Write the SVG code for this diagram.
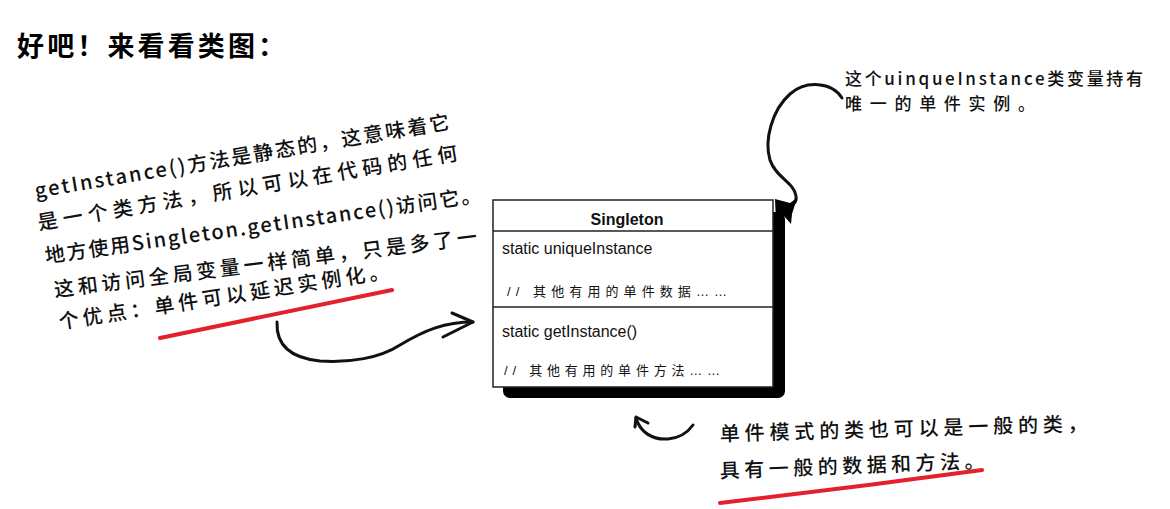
<svg xmlns="http://www.w3.org/2000/svg" width="1170" height="509" viewBox="0 0 1170 509">
  <defs>
    <style>
      .hand { font-family: "Noto Sans CJK SC", "Noto Sans", sans-serif; font-weight: 500; fill: #111; }
      .uml { font-family: "Liberation Sans", Arial, sans-serif; fill: #111; }
      .umlcn { font-family: "Liberation Sans", "Noto Sans CJK SC", sans-serif; fill: #111; }
      .line { fill: none; stroke: #111; stroke-width: 3; stroke-linecap: round; stroke-linejoin: round; }
      .red { fill: none; stroke: #e3202b; stroke-width: 4; stroke-linecap: round; }
      .sep { stroke: #222; stroke-width: 1.5; }
    </style>
  </defs>
  <rect width="1170" height="509" fill="#ffffff"/>

  <g id="title">
    <text x="17" y="56" font-family="'Noto Sans CJK SC', sans-serif" font-weight="700" font-size="27" textLength="268" lengthAdjust="spacing" fill="#000">好吧！来看看类图：</text>
  </g>

  <g id="note-left" class="hand" font-size="20">
    <text x="36" y="198" transform="rotate(-9.5 36 198)" textLength="420" lengthAdjust="spacing">getInstance()方法是静态的，这意味着它</text>
    <text x="39" y="230" transform="rotate(-9.5 39 230)" textLength="425" lengthAdjust="spacing">是一个类方法，所以可以在代码的任何</text>
    <text x="46" y="263" transform="rotate(-8 46 263)" textLength="440" lengthAdjust="spacing">地方使用Singleton.getInstance()访问它。</text>
    <text x="55" y="297" transform="rotate(-7.2 55 297)" textLength="426" lengthAdjust="spacing">这和访问全局变量一样简单，只是多了一</text>
    <text x="60" y="329" transform="rotate(-8.8 60 329)" textLength="334" lengthAdjust="spacing">个优点：单件可以延迟实例化。</text>
  </g>

  <g id="note-top-right" class="hand" font-size="17">
    <text x="845" y="85" textLength="298" lengthAdjust="spacing">这个uinqueInstance类变量持有</text>
    <text x="845" y="110" textLength="190" lengthAdjust="spacing">唯一的单件实例。</text>
  </g>

  <g id="note-bottom" class="hand" font-size="20">
    <text x="720" y="441" transform="rotate(-1.6 720 441)" textLength="368" lengthAdjust="spacing">单件模式的类也可以是一般的类，</text>
    <text x="720" y="478" transform="rotate(-2.2 720 478)" textLength="265" lengthAdjust="spacing">具有一般的数据和方法。</text>
  </g>

  <g id="class-singleton">
    <rect x="503" y="212" width="282" height="186" rx="7" fill="#000"/>
    <rect x="493" y="200" width="280" height="187" fill="#fff" stroke="#222" stroke-width="1.5"/>
    <line class="sep" x1="493" y1="231" x2="773" y2="231"/>
    <line class="sep" x1="493" y1="307" x2="773" y2="307"/>
    <text class="uml" x="627" y="225" font-size="16" font-weight="700" text-anchor="middle">Singleton</text>
    <text class="uml" x="502" y="254" font-size="16">static uniqueInstance</text>
    <text class="umlcn" x="507" y="296" font-size="13" textLength="220" lengthAdjust="spacing">//  其他有用的单件数据……</text>
    <text class="uml" x="502" y="337" font-size="16">static getInstance()</text>
    <text class="umlcn" x="504" y="375" font-size="13" textLength="216" lengthAdjust="spacing">//  其他有用的单件方法……</text>
  </g>

  <g id="highlights">
    <path class="red" d="M160,338 Q280,313 392,290"/>
    <path class="red" d="M720,503 Q850,488 982,470"/>
  </g>

  <g id="connectors">
    <path class="line" d="M277,322 C276,345 290,358 320,361 C350,363 380,358 400,345 C425,330 445,322 473,322"/>
    <path class="line" d="M452,313 L473,322 L443,337"/>
    <path class="line" d="M842,98 C832,82 806,80 790,94 C772,110 764,140 770,160 C776,178 794,182 796,196 C797,202 793,205 788,206"/>
    <path d="M775,199 L790,203 L797,198 L792,214 L791,224 L784,216 L776,222 Z" fill="#000"/>
    <path class="line" d="M636,418 C640,432 652,440 668,439 C680,438 688,432 693,425"/>
    <path class="line" d="M635,427 L636,417 L648,423"/>
  </g>
</svg>
